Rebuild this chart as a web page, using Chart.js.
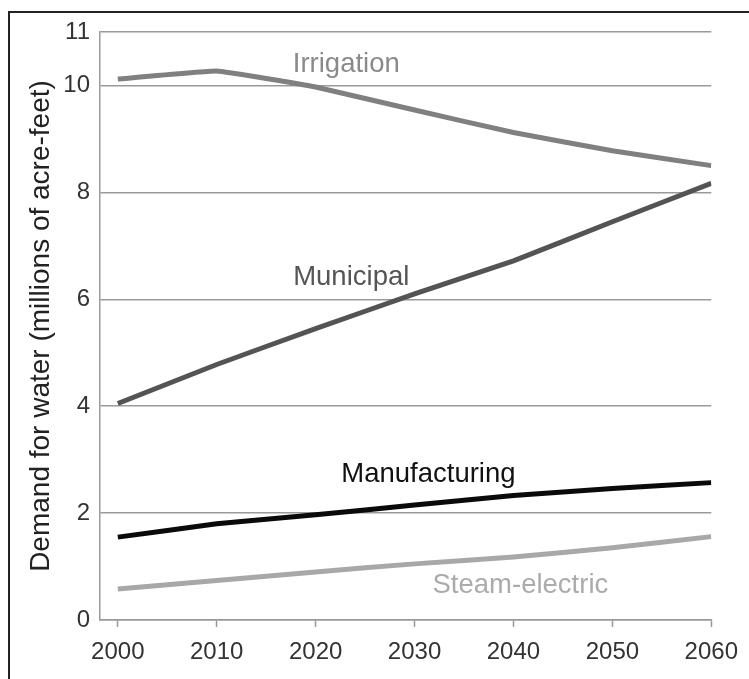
<!DOCTYPE html>
<html lang="en">
<head>
<meta charset="UTF-8">
<title>Demand for water</title>
<script src="https://cdn.jsdelivr.net/npm/chart.js"></script>
<style>
  html, body { margin: 0; padding: 0; background: #fff; }
  #wrap { position: relative; width: 749px; height: 679px; overflow: hidden; }
  #frame { position: absolute; left: 8px; top: 11px; width: 800px; height: 700px;
           border-left: 2px solid #222; border-top: 2px solid #222; }
  canvas { position: absolute; left: 0; top: 0; }
</style>
</head>
<body>
<div id="wrap">
  <div id="frame"></div>
  <canvas id="waterChart" width="749" height="679"></canvas>
</div>
<script>
// data (millions of acre-feet)
const years = [2000, 2010, 2020, 2030, 2040, 2050, 2060];
const irrigation = [10.12, 10.27, 9.97, 9.54, 9.12, 8.78, 8.5];
const municipal = [4.05, 4.78, 5.45, 6.1, 6.72, 7.45, 8.17];
const manufacturing = [1.55, 1.8, 1.97, 2.15, 2.33, 2.46, 2.57];
const steamElectric = [0.58, 0.74, 0.9, 1.05, 1.18, 1.35, 1.56];
const yTicks = [0, 2, 4, 6, 8, 10, 11];

const FONT = '"Liberation Sans", Arial, sans-serif';

function series(label, values, color, labelColor, labelAt) {
    return {
        label: label,
        data: values.map((v, i) => ({ x: years[i], y: v })),
        borderColor: color,
        borderWidth: 5,
        pointRadius: 0,
        tension: 0.08,
        fill: false,
        labelColor: labelColor,
        labelAt: labelAt
    };
}

// names written next to the lines
const seriesLabels = {
    id: 'seriesLabels',
    afterDatasetsDraw(chart) {
        const ctx = chart.ctx;
        const x = chart.scales.x, y = chart.scales.y;
        ctx.save();
        ctx.font = '27.5px ' + FONT;
        ctx.textAlign = 'center';
        ctx.textBaseline = 'middle';
        chart.data.datasets.forEach(ds => {
            ctx.fillStyle = ds.labelColor;
            ctx.fillText(ds.label, x.getPixelForValue(ds.labelAt[0]), y.getPixelForValue(ds.labelAt[1]));
        });
        ctx.restore();
    }
};

new Chart(document.getElementById('waterChart').getContext('2d'), {
    type: 'line',
    data: {
        datasets: [
            series('Irrigation', irrigation, '#808080', '#8a8a8a', [2023.1, 10.4]),
            series('Municipal', municipal, '#545454', '#555555', [2023.6, 6.4]),
            series('Manufacturing', manufacturing, '#0a0a0a', '#111111', [2031.4, 2.73]),
            series('Steam-electric', steamElectric, '#a8a8a8', '#ababab', [2040.7, 0.65])
        ]
    },
    options: {
        responsive: false,
        animation: false,
        devicePixelRatio: 1,
        layout: { padding: { top: 32, right: 37, bottom: 0, left: 0 } },
        plugins: { legend: { display: false }, tooltip: { enabled: false } },
        scales: {
            x: {
                type: 'linear',
                min: 1998.2,
                max: 2060,
                afterBuildTicks: s => { s.ticks = years.map(v => ({ value: v })); },
                afterFit: s => { s.height = 59; },
                ticks: {
                    callback: v => String(v),
                    font: { size: 24, family: FONT },
                    color: '#333',
                    padding: 11,
                    maxRotation: 0,
                    autoSkip: false
                },
                grid: { drawOnChartArea: false, drawTicks: true, tickLength: 7, tickColor: '#999', tickWidth: 1.5 },
                border: { color: '#999', width: 1.5 }
            },
            y: {
                min: 0,
                max: 11,
                afterBuildTicks: s => { s.ticks = yTicks.map(v => ({ value: v })); },
                afterFit: s => { s.width = 100; },
                ticks: { font: { size: 24, family: FONT }, color: '#333', padding: 10 },
                grid: { color: '#9a9a9a', lineWidth: 1.5, drawTicks: false },
                border: { color: '#9a9a9a', width: 1.5 },
                title: {
                    display: true,
                    text: 'Demand for water (millions of acre-feet)',
                    font: { size: 28, family: FONT },
                    color: '#222',
                    padding: { top: 24, bottom: 0 }
                }
            }
        }
    },
    plugins: [seriesLabels]
});
</script>
</body>
</html>
